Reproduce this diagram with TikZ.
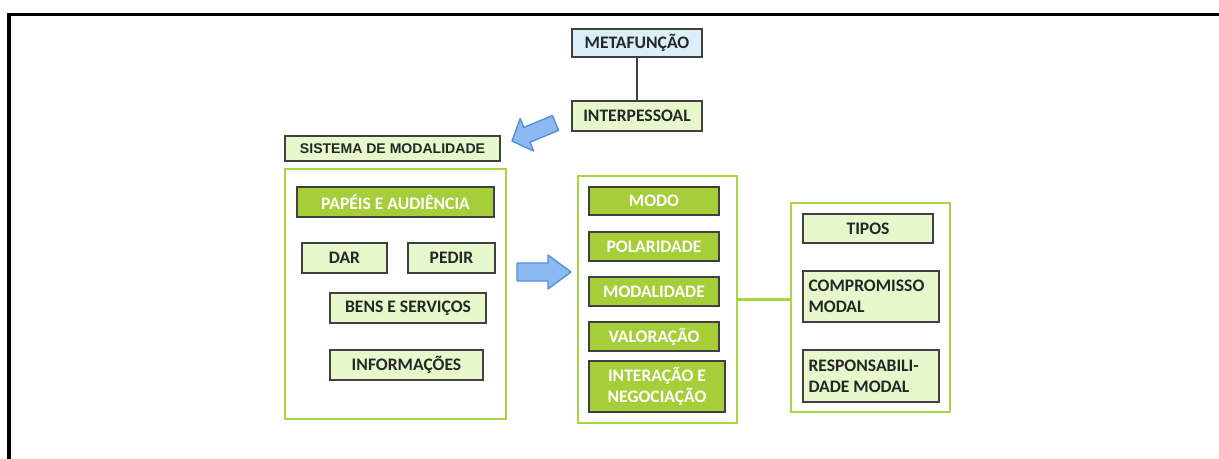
\documentclass[tikz,border=0pt]{standalone}
\usepackage{fontspec}
\setmainfont{Carlito}
\newfontfamily\arialfont{Liberation Sans}
\usetikzlibrary{positioning}
\definecolor{verdeclaro}{RGB}{230,248,204}
\definecolor{verde}{RGB}{166,206,57}
\definecolor{verdeborda}{RGB}{166,214,64}
\definecolor{azulclaro}{RGB}{220,238,248}
\definecolor{borda}{RGB}{64,64,64}
\definecolor{azul}{RGB}{140,186,240}
\definecolor{azulborda}{RGB}{84,142,222}
\tikzset{lb/.style={draw=borda,fill=verdeclaro,line width=1pt,font=\bfseries,text=black!85,inner
sep=0pt},gb/.style={draw=borda,fill=verde,line width=1pt,font=\bfseries,text=white,inner
sep=0pt},grupo/.style={draw=verdeborda,fill=white,line width=1.3pt,inner
sep=0pt},seta/.style={draw=azulborda,fill=azul,line width=0.8pt,line join=round}}

\begin{document}
\begin{tikzpicture}[x=0.02cm,y=-0.02cm]
		\useasboundingbox (0,0) rectangle (1219,459);
		\draw[line width=2pt] (9,459) -- (9,14.5) -- (1219,14.5);
		% metafuncao
		\node[lb,fill=azulclaro,minimum width=2.6cm,minimum height=0.56cm] (meta) at (637,43) {METAFUNÇÃO};
		\node[lb,minimum width=2.6cm,minimum height=0.6cm] (inter) at (637,116) {INTERPESSOAL};
		\draw[borda,line width=1.2pt] (meta) -- (inter);
		\draw[seta] (552.4,115.6) -- (523.8,127.4) -- (520.2,118.6) -- (512,141) -- (533.6,151.0) -- (530.0,142.2) -- (558.6,130.4) -- cycle;
		% sistema de modalidade
		\node[lb,font=\arialfont\bfseries\fontsize{8}{9}\selectfont,minimum width=4.3cm,minimum height=0.5cm] (sist) at (392.5,148.5) {SISTEMA DE MODALIDADE};
		\node[grupo,minimum width=4.42cm,minimum height=5cm] (esq) at (395.5,294) {};
		\node[gb,minimum width=3.94cm,minimum height=0.6cm] (papeis) at (395.5,202) {PAPÉIS E AUDIÊNCIA};
		\node[lb,minimum width=1.7cm,minimum height=0.6cm] (dar) at (344.5,258) {DAR};
		\node[lb,minimum width=1.74cm,minimum height=0.6cm] (pedir) at (451.5,258) {PEDIR};
		\node[lb,minimum width=3.12cm,minimum height=0.6cm] (bens) at (408,308) {BENS E SERVIÇOS};
		\node[lb,minimum width=3.06cm,minimum height=0.6cm] (info) at (406.5,365) {INFORMAÇÕES};
		\draw[seta] (517,263) -- (548,263) -- (548,255) -- (571,272) -- (548,289) -- (548,281) -- (517,281) -- cycle;
		% sistemas
		\node[grupo,minimum width=3.18cm,minimum height=4.94cm] (meio) at (657.5,299.5) {};
		\node[gb,minimum width=2.6cm,minimum height=0.56cm] (modo) at (654,201) {MODO};
		\node[gb,minimum width=2.6cm,minimum height=0.58cm] (polar) at (654,246.5) {POLARIDADE};
		\node[gb,minimum width=2.6cm,minimum height=0.58cm] (modal) at (654,291.5) {MODALIDADE};
		\node[gb,minimum width=2.6cm,minimum height=0.58cm] (valor) at (654,336.5) {VALORAÇÃO};
		\node[gb,minimum width=2.72cm,minimum height=1.02cm,align=center] (negoc) at (657,386.5) {INTERAÇÃO E\\NEGOCIAÇÃO};
		% tipos
		\node[grupo,minimum width=3.18cm,minimum height=4.18cm] (dir) at (870.5,307.5) {};
		\node[lb,minimum width=2.6cm,minimum height=0.58cm] (tipos) at (868,228.5) {TIPOS};
		\node[lb,minimum width=2.72cm,minimum height=1.02cm,text width=2.5cm,align=flush left] (comp) at (871,296.5) {COMPROMISSO\\MODAL};
		\node[lb,minimum width=2.72cm,minimum height=1.04cm,text width=2.5cm,align=flush left] (resp) at (871,376) {RESPONSABILI-\\DADE MODAL};
		\draw[verdeborda,line width=1.3pt] (meio.east) -- (meio.east -| dir.west);
	\end{tikzpicture}
\end{document}
